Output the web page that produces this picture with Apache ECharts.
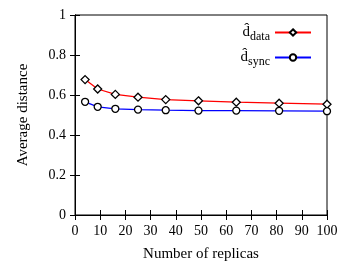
<!DOCTYPE html>
<html lang="en">
<head>
    <meta charset="UTF-8">
    <title>Average distance</title>
    <script src="https://cdn.jsdelivr.net/npm/echarts@6/dist/echarts.min.js"></script>
    <style>
        body { margin: 0; background: #fff; }
        #chart { width: 355px; height: 267px; }
    </style>
</head>
<body>
    <div id="chart"></div>
    <script>
        // number of replicas
        var replicas = [4, 9, 16, 25, 36, 49, 64, 81, 100];
        var dData = [0.677, 0.630, 0.603, 0.589, 0.577, 0.571, 0.564, 0.559, 0.554];
        var dSync = [0.566, 0.541, 0.531, 0.527, 0.524, 0.522, 0.522, 0.521, 0.519];
        var seriesNames = ['data', 'sync'];

        var font = 'Liberation Serif';

        function pairs(xs, ys) {
            var out = [];
            for (var i = 0; i < xs.length; i++) {
                out.push([xs[i], ys[i]]);
            }
            return out;
        }

        var lineStyle = { color: '#000', width: 1 };
        var tick = { show: true, inside: true, length: 5, lineStyle: { color: '#000', width: 1 } };
        var label = { fontFamily: font, fontSize: 14, color: '#000', margin: 9 };
        var nameStyle = { fontFamily: font, fontSize: 15, color: '#000' };

        var marker = {
            color: '#fff',
            borderColor: '#000',
            borderWidth: 1.3
        };

        var option = {
            animation: false,
            grid: { left: 75, right: 28, top: 15, bottom: 51, show: true, borderColor: '#000', borderWidth: 1 },
            legend: {
                orient: 'vertical',
                right: 38,
                top: 20,
                align: 'right',
                itemWidth: 36,
                itemHeight: 8,
                itemGap: 7,
                formatter: function (name) {
                    return '{d|d\u0302}{s|' + name + '}';
                },
                textStyle: {
                    rich: {
                        d: { fontFamily: font, fontSize: 15, color: '#000' },
                        s: { fontFamily: font, fontSize: 12, color: '#000', padding: [9, 0, 0, 0] }
                    }
                },
                data: seriesNames
            },
            xAxis: [{
                type: 'value', min: 0, max: 100, interval: 10,
                name: 'Number of replicas', nameLocation: 'middle', nameGap: 32,
                nameTextStyle: nameStyle,
                axisLine: { show: true, lineStyle: lineStyle },
                axisTick: tick,
                axisLabel: label,
                splitLine: { show: false }
            }, {
                type: 'value', min: 0, max: 100, interval: 10, position: 'top',
                axisLine: { show: true, lineStyle: lineStyle },
                axisTick: tick,
                axisLabel: { show: false },
                splitLine: { show: false }
            }],
            yAxis: [{
                type: 'value', min: 0, max: 1, interval: 0.2,
                name: 'Average distance', nameLocation: 'middle', nameGap: 44,
                nameTextStyle: nameStyle,
                axisLine: { show: true, lineStyle: lineStyle },
                axisTick: tick,
                axisLabel: label,
                splitLine: { show: false }
            }, {
                type: 'value', min: 0, max: 1, interval: 0.2, position: 'right',
                axisLine: { show: true, lineStyle: lineStyle },
                axisTick: tick,
                axisLabel: { show: false },
                splitLine: { show: false }
            }],
            series: [{
                name: seriesNames[0],
                type: 'line',
                data: pairs(replicas, dData),
                symbol: 'diamond',
                symbolSize: 8,
                lineStyle: { color: '#ff0000', width: 1.3 },
                itemStyle: marker,
                color: '#ff0000'
            }, {
                name: seriesNames[1],
                type: 'line',
                data: pairs(replicas, dSync),
                symbol: 'circle',
                symbolSize: 7,
                lineStyle: { color: '#0000ff', width: 1.3 },
                itemStyle: marker,
                color: '#0000ff'
            }]
        };

        var myChart = echarts.init(document.getElementById('chart'));
        myChart.setOption(option);
    </script>
</body>
</html>
